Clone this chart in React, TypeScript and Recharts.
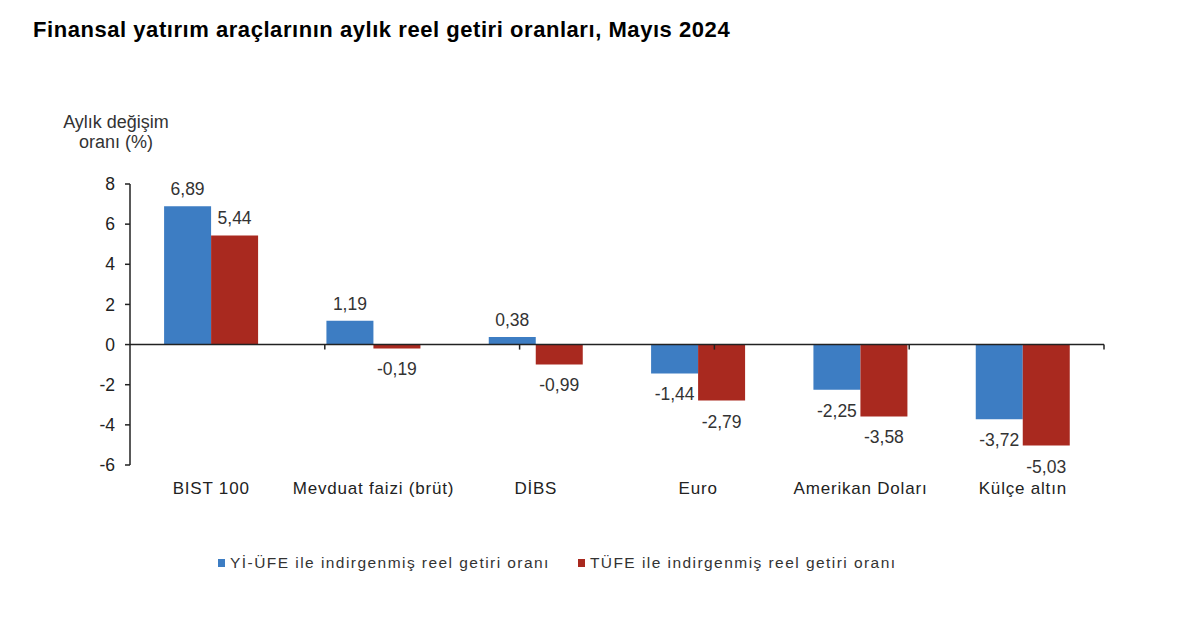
import React from 'react';
import { BarChart, Bar, XAxis, YAxis, ReferenceLine, LabelList, Legend } from 'recharts';

const categories = ['BIST 100', 'Mevduat faizi (brüt)', 'DİBS', 'Euro', 'Amerikan Doları', 'Külçe altın'];
const yiUfe = [6.89, 1.19, 0.38, -1.44, -2.25, -3.72];
const tufe = [5.44, -0.19, -0.99, -2.79, -3.58, -5.03];
const yTicks = [-6, -4, -2, 0, 2, 4, 6, 8];
const boundaries = [1, 2, 3, 4, 5, 6];

const seriesNames = {
  yiUfe: 'Yİ-ÜFE ile indirgenmiş reel getiri oranı',
  tufe: 'TÜFE ile indirgenmiş reel getiri oranı',
};

const BLUE = '#3d7dc3';
const RED = '#a9291f';
const FONT = '"Liberation Sans", Arial, sans-serif';

const data = categories.map((name, i) => ({ name, yiUfe: yiUfe[i], tufe: tufe[i] }));

const fmt = (v: number) => v.toFixed(2).replace('.', ',');

const ValueLabel = (props: any) => {
  const { x, y, width, height, value } = props;
  const top = Math.min(y, y + height);
  const bottom = Math.max(y, y + height);
  const cy = value >= 0 ? top - 17 : bottom + 21;
  return (
    <text x={x + width / 2} y={cy} textAnchor="middle" dominantBaseline="central"
      fontSize={17.5} fill="#333" fontFamily={FONT}>
      {fmt(value)}
    </text>
  );
};

const LegendContent = () => (
  <div style={{ display: 'flex', fontFamily: FONT, fontSize: 15.5, letterSpacing: 1.45, color: '#333', whiteSpace: 'nowrap' }}>
    <span style={{ display: 'flex', alignItems: 'center', marginRight: 28 }}>
      <span style={{ width: 7, height: 8, background: BLUE, display: 'inline-block', marginRight: 5 }} />
      {seriesNames.yiUfe}
    </span>
    <span style={{ display: 'flex', alignItems: 'center' }}>
      <span style={{ width: 7, height: 8, background: RED, display: 'inline-block', marginRight: 5 }} />
      {seriesNames.tufe}
    </span>
  </div>
);

export default function App() {
  return (
    <div style={{ position: 'absolute', left: 0, top: 0, width: 1200, height: 644, background: '#fff' }}>
      <div style={{ position: 'absolute', left: 33, top: 17, fontFamily: FONT, fontWeight: 'bold', fontSize: 22, letterSpacing: 0.55, color: '#000', whiteSpace: 'nowrap' }}>
        Finansal yatırım araçlarının aylık reel getiri oranları, Mayıs 2024
      </div>
      <div style={{ position: 'absolute', left: 46, top: 112, width: 140, textAlign: 'center', fontFamily: FONT, fontSize: 18, color: '#333', lineHeight: '20px' }}>
        Aylık değişim<br />oranı (%)
      </div>
      <BarChart
        width={1200}
        height={644}
        data={data}
        margin={{ top: 184, right: 96, left: 70, bottom: 149 }}
        barCategoryGap="21%"
        barGap={0}
        style={{ position: 'absolute', left: 0, top: 0 }}
      >
        <XAxis dataKey="name" xAxisId={0} axisLine={false} tickLine={false} height={30}
          tickMargin={11}
          tick={{ fontSize: 17, fill: '#222', fontFamily: FONT, letterSpacing: 0.8 }} interval={0} />
        <XAxis xAxisId="num" type="number" domain={[0, 6]} hide />
        <YAxis domain={[-6, 8]} ticks={yTicks} width={60} interval={0}
          axisLine={{ stroke: '#222', strokeWidth: 1.5 }}
          tickLine={{ stroke: '#222', strokeWidth: 1.5 }} tickSize={5} tickMargin={10}
          tick={{ fontSize: 17.5, fill: '#222', fontFamily: FONT }} />
        <Legend verticalAlign="middle" layout="horizontal" content={<LegendContent />}
          wrapperStyle={{ position: 'absolute', top: 554, left: 218, width: 'auto' }} />
        <Bar dataKey="yiUfe" name={seriesNames.yiUfe} fill={BLUE} isAnimationActive={false}>
          <LabelList dataKey="yiUfe" content={<ValueLabel />} />
        </Bar>
        <Bar dataKey="tufe" name={seriesNames.tufe} fill={RED} isAnimationActive={false}>
          <LabelList dataKey="tufe" content={<ValueLabel />} />
        </Bar>
        <ReferenceLine y={0} stroke="#222" strokeWidth={1.5} />
        {boundaries.map((b) => (
          <ReferenceLine key={b} xAxisId="num" segment={[{ x: b, y: 0 }, { x: b, y: -0.25 }]}
            stroke="#222" strokeWidth={1.5} />
        ))}
      </BarChart>
    </div>
  );
}
